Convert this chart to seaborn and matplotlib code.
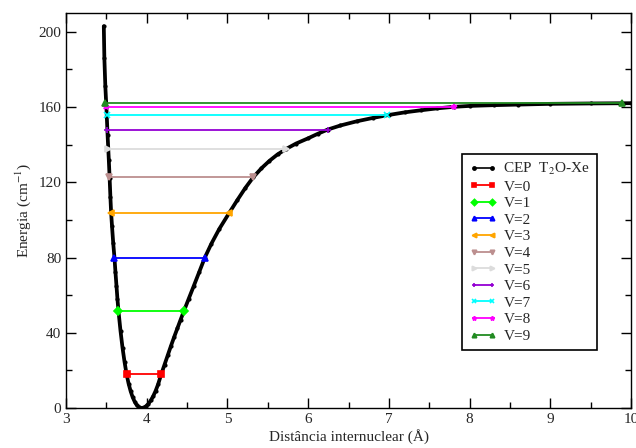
import matplotlib
matplotlib.use("Agg")
import matplotlib.pyplot as plt
import seaborn as sns
from matplotlib.ticker import MultipleLocator

# Potential energy curve (CEP) of T2O-Xe: internuclear distance (Å) and energy (cm^-1)
r_cep = [3.468, 3.475, 3.487, 3.500, 3.515, 3.530, 3.540, 3.550, 3.558, 3.570,
         3.585, 3.600, 3.612, 3.625, 3.637, 3.650, 3.675, 3.700, 3.725, 3.750,
         3.775, 3.800, 3.825, 3.850, 3.875, 3.900, 3.935, 3.960, 3.990, 4.020,
         4.050, 4.080, 4.110, 4.140, 4.180, 4.220, 4.260, 4.300, 4.340, 4.380,
         4.420, 4.460, 4.520, 4.580, 4.650, 4.720, 4.800, 4.900, 5.020, 5.120,
         5.220, 5.320, 5.420, 5.520, 5.620, 5.730, 5.850, 6.000, 6.120, 6.240,
         6.400, 6.600, 6.800, 7.000, 7.200, 7.400, 7.600, 7.800, 8.000, 8.300,
         8.600, 9.000, 9.500, 10.000]
e_cep = [203.0, 186.0, 171.0, 160.0, 145.0, 132.0, 122.5, 112.0, 104.5, 96.5,
         87.5, 80.0, 72.5, 65.0, 58.0, 51.5, 41.0, 32.0, 24.5, 18.0,
         13.0, 9.0, 5.8, 3.4, 1.6, 0.5, 0.0, 0.2, 0.9, 2.2,
         4.0, 6.3, 9.1, 12.5, 18.0, 23.0, 28.0, 33.0, 37.8, 42.4,
         47.0, 51.5, 58.1, 64.6, 72.3, 80.0, 87.3, 95.3, 103.6, 110.4,
         116.9, 122.7, 127.4, 131.4, 134.8, 137.8, 140.6, 143.4, 145.8, 148.0,
         150.2, 152.4, 154.2, 155.8, 157.2, 158.3, 159.3, 160.1, 160.6, 161.0,
         161.3, 161.7, 161.9, 162.05]

# Vibrational levels: energy and classical turning points
levels = ["V=0", "V=1", "V=2", "V=3", "V=4", "V=5", "V=6", "V=7", "V=8", "V=9"]
level_energy = [18.0, 51.5, 80.0, 103.6, 122.7, 137.8, 148.0, 155.8, 160.2, 162.0]
level_r_left = [3.75, 3.65, 3.60, 3.553, 3.535, 3.515, 3.505, 3.502, 3.500, 3.482]
level_r_right = [4.18, 4.46, 4.72, 5.02, 5.32, 5.73, 6.24, 6.98, 7.80, 9.89]

level_colors = ["#ff0000", "#00ff00", "#0000ff", "#ffa500", "#bc8f8f",
                "#dcdcdc", "#9400d3", "#00ffff", "#ff00ff", "#228b22"]
level_markers = ["s", "D", "^", "<", "v", ">", "+", "x", "*", "^"]

sns.set_style("ticks")
plt.rcParams["font.family"] = ["Liberation Serif", "DejaVu Serif"]
plt.rcParams["mathtext.fontset"] = "stix"

fig = plt.figure(figsize=(6.36, 4.48), dpi=100)
ax = fig.add_axes([0.1038, 0.0893, 0.8885, 0.8817])

sns.lineplot(x=r_cep, y=e_cep, ax=ax, color="black", linewidth=2.7,
             marker="o", markersize=3, markeredgewidth=0, sort=False,
             label="CEP  T$_2$O-Xe")

for name, e, rl, rr, c, m in zip(levels, level_energy, level_r_left,
                                 level_r_right, level_colors, level_markers):
    sns.lineplot(x=[rl, rr], y=[e, e], ax=ax, color=c, linewidth=1.3,
                 marker=m, markersize=4, markeredgecolor=c, markeredgewidth=1.2,
                 sort=False, label=name)

ax.set_xlim(3, 10)
ax.set_ylim(0, 210)
ax.xaxis.set_major_locator(MultipleLocator(1))
ax.xaxis.set_minor_locator(MultipleLocator(0.5))
ax.yaxis.set_major_locator(MultipleLocator(40))
ax.yaxis.set_minor_locator(MultipleLocator(20))
ax.tick_params(which="both", direction="in", top=True, right=True,
               labelsize=11, width=1.0, color="black")
ax.tick_params(which="major", length=7)
ax.tick_params(which="minor", length=4)
for s in ax.spines.values():
    s.set_linewidth(1.0)
    s.set_color("black")

ax.set_xlabel("Distância internuclear (Å)", fontsize=11, labelpad=2)
ax.set_ylabel("Energia (cm$^{-1}$)", fontsize=11, labelpad=4)

leg = ax.legend(loc="upper left", bbox_to_anchor=(0.701, 0.643), numpoints=2,
                borderaxespad=0, fontsize=11, frameon=True, fancybox=False,
                framealpha=1, edgecolor="black", handlelength=1.8,
                handletextpad=0.45, labelspacing=0.19, borderpad=0.45,
                markerscale=0.8)
leg.get_frame().set_linewidth(1.2)
# thin line with end dots for the curve's legend entry
leg.get_lines()[0].set_linewidth(1.2)
leg.get_lines()[0].set_markersize(3.5)

fig.savefig("out.png", dpi=100)
